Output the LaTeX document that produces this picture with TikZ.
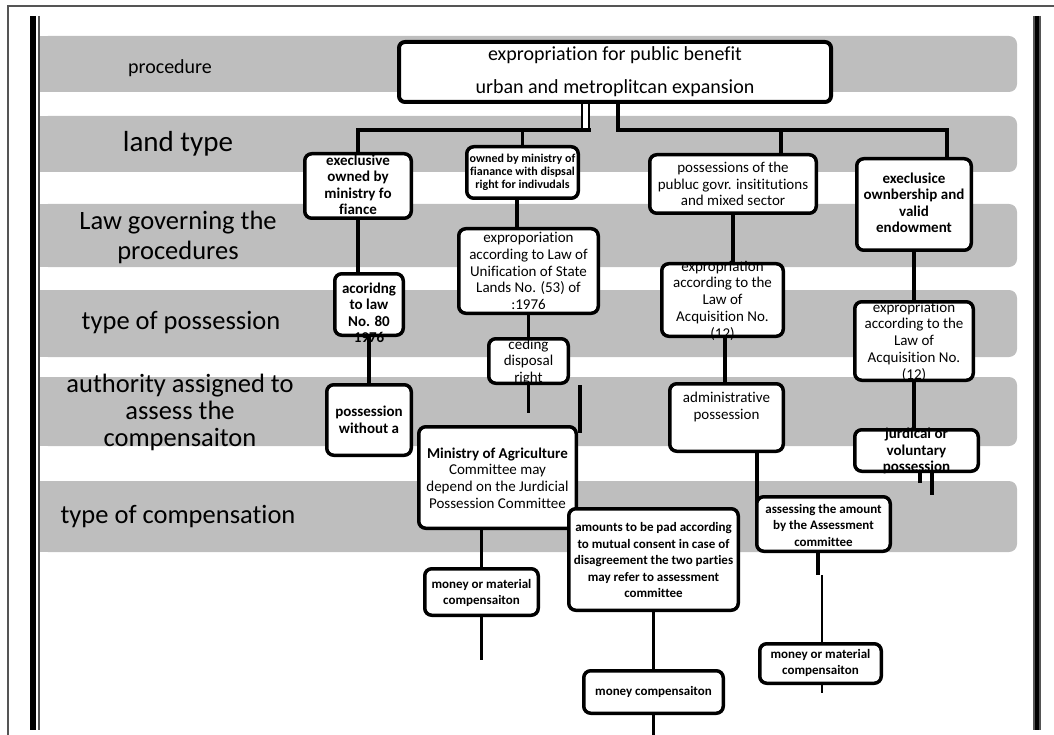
\documentclass[tikz,border=0pt]{standalone}
\usepackage{fontspec}
\setmainfont[Ligatures=NoCommon]{Carlito}
\usetikzlibrary{backgrounds}
\definecolor{bandgray}{RGB}{190,190,190}
\definecolor{framegray}{RGB}{85,85,85}

\begin{document}
\begin{tikzpicture}[x=1pt, y=-1pt,
  cell/.style={draw, line width=3.5pt, rounded corners=7pt, fill=white, inner sep=0pt},
  txt/.style={font=\fontsize{15}{16.7}\selectfont, align=center, inner sep=0pt},
  btxt/.style={txt, font=\fontsize{15}{16.5}\selectfont\bfseries},
  sbtxt/.style={txt, font=\fontsize{13}{16.5}\selectfont\bfseries},
  rowlbl/.style={font=\fontsize{26.5}{28}\selectfont, align=center, inner sep=0pt},
  link/.style={line width=3.5pt}
]
  \useasboundingbox (0,0) rectangle (1054,735);

  % Rahmen
  \draw[framegray, line width=1.5pt] (8,735) -- (8,6) -- (1054,6);
  \draw[framegray, line width=1.5pt] (39,16) -- (39,730);

  % Zeilenbaender
  \begin{scope}[on background layer]
    \foreach \top/\bot in {36/92, 116/172, 204/267, 290/357, 377/446, 481/552} {
      \fill[bandgray, rounded corners=8pt] (40,\top) rectangle (1017,\bot);
      \fill[bandgray] (40,\top) rectangle (70,\bot);
    }
  \end{scope}
  \draw[line width=6pt] (33,16) -- (33,730);
  \draw[framegray, line width=8pt] (1037,16) -- (1037,730);
  \draw[line width=4pt] (1037,16) -- (1037,730);

  % Zeilentitel
  \node[rowlbl, font=\fontsize{20}{24}\selectfont] (lblProc) at (170,68) {procedure};
  \node[rowlbl, font=\fontsize{29}{32}\selectfont] (lblLand) at (178,144) {land type};
  \node[rowlbl, font=\fontsize{26.5}{30}\selectfont] (lblLaw) at (178,237) {Law governing the\\procedures};
  \node[rowlbl] (lblPoss) at (181,323) {type of possession};
  \node[rowlbl, font=\fontsize{26.5}{27}\selectfont] (lblAuth) at (180,412) {authority assigned to\\assess the\\compensaiton};
  \node[rowlbl] (lblComp) at (178,517) {type of compensation};

  % Verfahren
  \node[cell, line width=4pt, rounded corners=6pt, minimum width=432pt, minimum height=60pt] (expro) at (615,72) {};
  \node[txt, font=\fontsize{20}{33}\selectfont] at (615,71.5) {expropriation for public benefit\\urban and metroplitcan expansion};

  % Spalte A
  \node[cell, minimum width=106.5pt, minimum height=64.5pt] (ownA) at (358,186) {};
  \node[btxt] at (358,185) {execlusive\\owned by\\ministry fo\\fiance};
  \node[cell, minimum width=68.5pt, minimum height=61.5pt] (lawA) at (369,304.5) {};
  \node[btxt] at (369,313) {acoridng\\to law\\No. 80\\1976};
  \node[cell, minimum width=84.5pt, minimum height=70.5pt] (possA) at (369,420) {};
  \node[btxt] at (369,420) {possession\\without a};

  % Spalte B
  \node[cell, minimum width=111.5pt, minimum height=51.5pt] (ownB) at (522.5,172.5) {};
  \node[btxt, font=\fontsize{12}{13}\selectfont\bfseries] at (522.5,172) {owned by ministry of\\fianance with dispsal\\right for indivudals};
  \node[cell, minimum width=139.5pt, minimum height=84.5pt] (lawB) at (528.5,271) {};
  \node[txt] at (528.5,271) {exproporiation\\according to Law of\\Unification of State\\Lands No. (53) of\\:1976};
  \node[cell, minimum width=79.5pt, minimum height=44.5pt] (cedeB) at (528.5,361) {};
  \node[txt] at (528.5,362) {ceding\\disposal\\right};
  \node[cell, minimum width=157.5pt, minimum height=101.5pt] (minB) at (497.5,477.5) {};
  \node[txt] at (497.5,478) {\textbf{Ministry of Agriculture}\\Committee may\\depend on the Jurdicial\\Possession Committee};
  \node[cell, minimum width=113.5pt, minimum height=46.5pt] (payB) at (481.5,592) {};
  \node[sbtxt] at (481.5,593) {money or material\\compensaiton};

  % Spalte C
  \node[cell, minimum width=166.5pt, minimum height=58.5pt] (ownC) at (733,184) {};
  \node[txt] at (733,184) {possessions of the\\publuc govr. insititutions\\and mixed sector};
  \node[cell, minimum width=121.5pt, minimum height=72.5pt] (lawC) at (722.5,300) {};
  \node[txt] at (722.5,300.5) {expropriation\\according to the\\Law of\\Acquisition No.\\(12)};
  \node[cell, minimum width=113.5pt, minimum height=67.5pt] (possC) at (726.5,417.5) {};
  \node[txt] at (726.5,407) {administrative\\possession};
  \node[cell, minimum width=169.5pt, minimum height=101.5pt] (agreeC) at (653.5,559.5) {};
  \node[sbtxt] at (653.5,560) {amounts to be pad according\\to mutual consent in case of\\disagreement the two parties\\may refer to assessment\\committee};
  \node[cell, minimum width=139.5pt, minimum height=42.5pt] (payC) at (653.5,692) {};
  \node[sbtxt] at (653.5,692) {money compensaiton};

  % Spalte D
  \node[cell, minimum width=114.5pt, minimum height=91.5pt] (ownD) at (914,204.5) {};
  \node[btxt] at (914,203) {execlusice\\ownbership and\\valid\\endowment};
  \node[cell, minimum width=118.5pt, minimum height=78.5pt] (lawD) at (914,341) {};
  \node[txt] at (914,341.5) {expropriation\\according to the\\Law of\\Acquisition No.\\(12)};
  \node[cell, minimum width=123.5pt, minimum height=41.5pt] (possD) at (916.5,450.5) {};
  \node[btxt] at (916.5,451) {jurdical or\\voluntary\\possession};
  \node[cell, minimum width=133.5pt, minimum height=54.5pt] (assessD) at (823.5,524) {};
  \node[sbtxt] at (823.5,525) {assessing the amount\\by the Assessment\\committee};
  \node[cell, minimum width=121.5pt, minimum height=39.5pt] (payD) at (820.5,663.5) {};
  \node[sbtxt] at (820.5,663) {money or material\\compensaiton};

  % Verbindungen
  \coordinate (hubL) at (585.5,130);
  \coordinate (hubLend) at (591,130);
  \coordinate (hubR) at (618,130);
  \coordinate (dropC) at (781,130);
  \coordinate (dropD) at (947,130);
  \coordinate (cutB) at (580,385);
  \begin{scope}[on background layer]
    \draw[line width=2.5pt, double=white, double distance=4.5pt] (expro.south -| hubL) -- (hubL);
    \draw[link] (ownA.north) |- (hubLend);
    \draw[link] (ownB.north) -- (ownB.north |- hubL);
    \draw[link, line width=4pt] (expro.south -| hubR) |- (dropC);
    \draw[link] (dropC) -- (dropD) -- (dropD |- ownD.north);
    \draw[link] (dropC) -- (dropC |- ownC.north);
    % A
    \draw[link] (ownA.south) -- (ownA.south |- lawA.north);
    \draw[link] (lawA.south) -- (lawA.south |- possA.north);
    % B
    \draw[link] ([xshift=-5.5pt]ownB.south) -- ([xshift=-5.5pt]ownB.south |- lawB.north);
    \draw[link] (lawB.south) -- (cedeB.north);
    \draw[link] (cedeB.south) -- ++(0,28);
    \draw[link] (cutB) -- ++(0,48);
    \draw[link] (payB.north) -- (payB.north |- minB.south);
    \draw[link] (payB.south) -- ++(0,43);
    % C
    \draw[link] (ownC.south) -- (ownC.south |- lawC.north);
    \draw[link] ([xshift=2.5pt]lawC.south) -- ([xshift=2.5pt]lawC.south |- possC.north);
    \draw[link] ([xshift=30.5pt]possC.south) -- ([xshift=30.5pt]possC.south |- agreeC.north);
    \draw[link] (agreeC.south) -- (payC.north);
    \draw[link] (payC.south) -- ++(0,25);
    % D
    \draw[link] (ownD.south) -- (ownD.south |- lawD.north);
    \draw[link] (lawD.south) -- (lawD.south |- possD.north);
    \draw[link] ([xshift=15.5pt]possD.south) -- ([xshift=15.5pt]possD.south |- assessD.north);
    \draw[link] ([xshift=3.5pt]possD.south) -- ++(0,10);
    \draw[link] ([xshift=-5.5pt]assessD.south) -- ++(0,22);
    \draw[link, line width=2.5pt] ([xshift=1.5pt]payD.north) -- ++(0,-67);
    \draw[link, line width=2.5pt] ([xshift=1.5pt]payD.south) -- ++(0,8);
  \end{scope}
\end{tikzpicture}
\end{document}
